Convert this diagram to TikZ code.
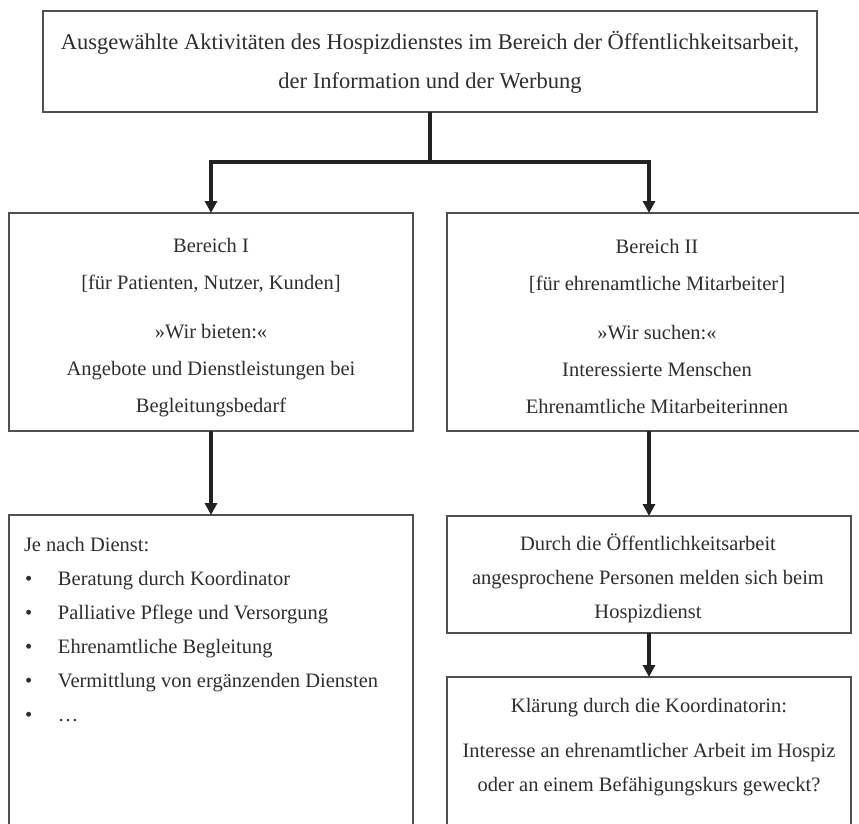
\documentclass[tikz,border=0pt]{standalone}
\usepackage{fontspec}
\setmainfont{Liberation Serif}
\usetikzlibrary{arrows.meta,calc}
\definecolor{boxline}{HTML}{505050}
\definecolor{txt}{HTML}{2E2E2E}
\definecolor{arrcol}{HTML}{222222}
\tikzset{
  box/.style={draw=boxline, line width=1.9pt, rectangle, inner sep=0pt, outer sep=0pt, fill=none},
  body/.style={text=txt, inner sep=0pt, outer sep=0pt, align=center, font=\fontsize{20.5}{37}\selectfont},
  titletext/.style={text=txt, inner sep=0pt, outer sep=0pt, align=center, font=\fontsize{22.5}{39}\selectfont},
  listtext/.style={text=txt, inner sep=0pt, outer sep=0pt, align=left, font=\fontsize{20.5}{34}\selectfont},
  conn/.style={draw=arrcol, line width=3.4pt},
  arrowed/.style={conn, -{Triangle[length=12pt,width=12pt]}}
}
\newcommand{\blt}{\makebox[34pt][l]{\hspace{1pt}\textbullet}}
\begin{document}
\begin{tikzpicture}[x=1pt,y=-1pt]
\useasboundingbox (0,0) rectangle (859,824);
\clip (0,0) rectangle (859,824);
\fill[white] (0,0) rectangle (859,824);

% boxes
\node[box, minimum width=774pt, minimum height=101pt] (top) at (430,61.5) {};
\node[box, minimum width=404pt, minimum height=218pt] (b1) at (211,322) {};
\node[box, minimum width=420pt, minimum height=218pt] (b2) at (657,322) {};
\node[box, minimum width=404pt, minimum height=320pt] (l1) at (211,675) {};
\node[box, minimum width=404pt, minimum height=117pt] (r1) at (649,574.5) {};
\node[box, minimum width=404pt, minimum height=158pt] (r2) at (649,756) {};

% texts
\node[titletext] (toptext) at (430,62) {Ausgewählte Aktivitäten des Hospizdienstes im Bereich der Öffentlichkeitsarbeit,\\der Information und der Werbung};
\node[body] (b1text) at (211,328) {Bereich I\\{}[für Patienten, Nutzer, Kunden]\\[12pt]»Wir bieten:«\\Angebote und Dienstleistungen bei\\Begleitungsbedarf};
\node[body] (b2text) at (657,326) {Bereich II\\{}[für ehrenamtliche Mitarbeiter]\\[12pt]»Wir suchen:«\\Interessierte Menschen\\Ehrenamtliche Mitarbeiterinnen};
\node[listtext, anchor=north west] (l1text) at (24,537) {Je nach Dienst:\\
\blt Beratung durch Koordinator\\
\blt Palliative Pflege und Versorgung\\
\blt Ehrenamtliche Begleitung\\
\blt Vermittlung von ergänzenden Diensten\\
\blt …};
\node[body, font=\fontsize{20.5}{34}\selectfont] (r1text) at (648,578.5) {Durch die Öffentlichkeitsarbeit\\angesprochene Personen melden sich beim\\Hospizdienst};
\node[body, font=\fontsize{20.5}{34}\selectfont] (r2text) at (649,747) {Klärung durch die Koordinatorin:\\[11pt]Interesse an ehrenamtlicher Arbeit im Hospiz\\oder an einem Befähigungskurs geweckt?};

% connectors
\coordinate (j) at (430,162);
\coordinate (b2in) at (649,213);
\coordinate (b2out) at (649,431);
\draw[conn] (top.south) -- (j);
\draw[arrowed] (j) -| (b1.north);
\draw[arrowed] (j) -| (b2in);
\draw[arrowed] (b1.south) -- (l1.north);
\draw[arrowed] (b2out) -- (r1.north);
\draw[arrowed] (r1.south) -- (r2.north);
\end{tikzpicture}
\end{document}
